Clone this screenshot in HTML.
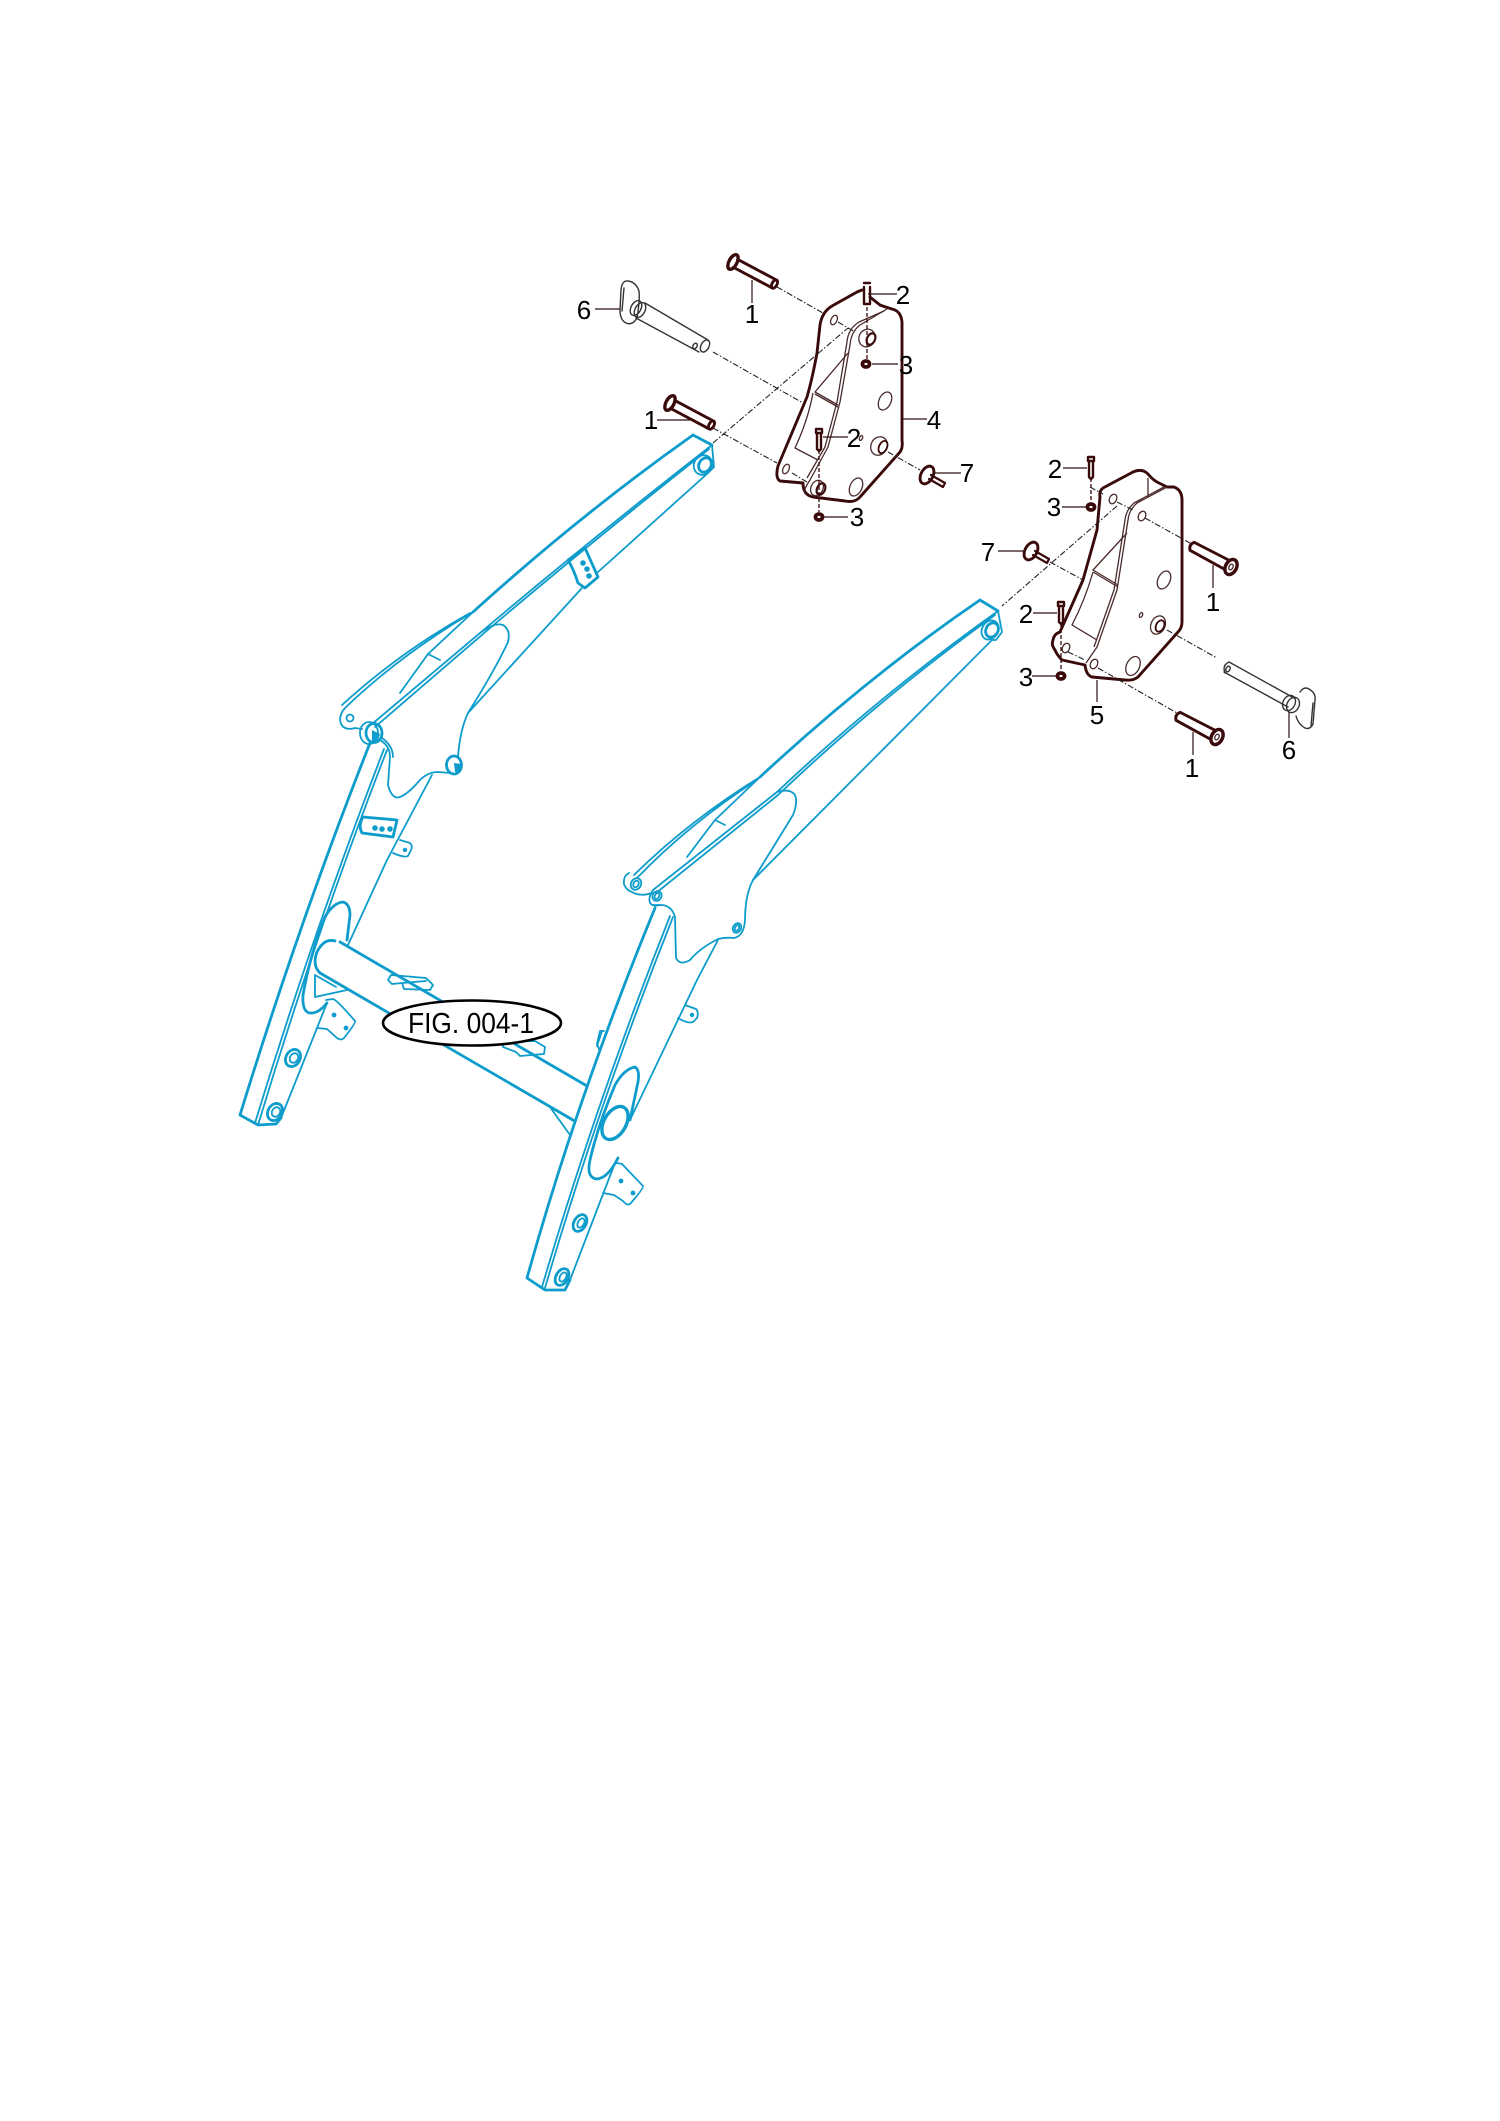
<!DOCTYPE html>
<html><head><meta charset="utf-8"><style>
html,body{margin:0;padding:0;background:#fff}
svg{display:block}
.b{fill:none;stroke:#0d9ccb;stroke-width:1.8;stroke-linejoin:round;stroke-linecap:round}
.bt{fill:none;stroke:#0d9ccb;stroke-width:2.8;stroke-linejoin:round;stroke-linecap:round}
.bf{fill:#0d9ccb;stroke:none}
.d{fill:none;stroke:#3a0a0a;stroke-width:2.9;stroke-linejoin:round;stroke-linecap:round}
.t{fill:none;stroke:#4a2a2a;stroke-width:1.3;stroke-linejoin:round}
.g{fill:none;stroke:#333;stroke-width:1.4;stroke-linecap:round}
.ld{fill:none;stroke:#301010;stroke-width:1.2}
.da{fill:none;stroke:#222;stroke-width:1.1;stroke-dasharray:6 2 1.5 2}
text{font-family:"Liberation Sans",sans-serif;fill:#000}
.n{font-size:26px;text-anchor:middle}
</style></head><body>
<svg width="1500" height="2121" viewBox="0 0 1500 2121" xmlns="http://www.w3.org/2000/svg">

<!-- LEFT ARM -->
<g>
<path class="bt" d="M693 435L712 445M693 435Q580 515 473 612"/>
<path class="b" d="M712 445Q590 540 480 633L372 724"/>
<path class="b" d="M709 449Q590 543 483 634L375 727"/>
<path class="b" d="M712 445L714 467L708 473L598 572M582 588L468 713"/>
<path class="b" d="M473 612Q400 655 345 708Q338 716 341 724Q345 731 355 728L362 729"/>
<path class="b" d="M470 613Q400 652 342 705"/>
<path class="b" d="M473 612L428 654L400 693M428 654L440 660"/>
<path class="b" d="M480 633Q495 622 503 625Q511 630 508 642Q495 670 468 713Q460 730 458 757"/>
<circle class="b" cx="350" cy="718" r="3.5"/>
<ellipse class="bt" cx="705" cy="465" rx="6" ry="7.5" transform="rotate(30 705 465)"/>
<ellipse class="b" cx="703" cy="465" rx="9" ry="10" transform="rotate(30 703 465)"/>
<path class="bt" d="M568 560L585 548L598 577L585 588L578 583Q574 570 568 560Z"/>
<circle class="bf" cx="583" cy="563" r="2.8"/><circle class="bf" cx="587" cy="569" r="2.8"/><circle class="bf" cx="589" cy="576" r="2.8"/>
<ellipse class="bt" cx="374" cy="733" rx="8" ry="9.5" fill="#fff"/>
<ellipse class="b" cx="369" cy="733" rx="9" ry="11"/>
<path class="bf" d="M372 730L380 734L377 743L372 741Z"/>
<ellipse class="bt" cx="454" cy="765" rx="7.5" ry="9"/>
<path class="bf" d="M454 763L461 764L461 772L455 772Z"/>
<path class="b" d="M380 740Q390 746 390 757L388 785Q392 800 400 797Q408 794 420 780Q428 772 438 772L450 773"/>
<path class="b" d="M382 738Q393 746 393 757"/>
<path class="bt" d="M370 743Q300 920 240 1115L258 1125L276 1124L281 1118"/>
<path class="b" d="M387 750Q317 930 258 1125"/>
<path class="b" d="M384 749Q314 930 255 1123"/>
<path class="b" d="M432 775L387 860L348 945M327 1003L281 1118"/>
<path class="bt" d="M363 817L397 820L393 837L362 833Q358 826 363 817Z"/>
<circle class="bf" cx="375" cy="828" r="2.8"/><circle class="bf" cx="382" cy="829" r="2.8"/><circle class="bf" cx="390" cy="829" r="2.8"/>
<path class="b" d="M400 840L410 843Q413 846 411 850L408 856Q404 858 393 853"/>
<circle class="bf" cx="405" cy="850" r="2.2"/>
<path class="bt" d="M343 902Q333 903 325 917Q310 955 303 995Q302 1012 310 1013Q318 1014 327 1003M343 902Q350 904 350 915L347 940"/>
<path class="b" d="M326 1000L333 999Q337 1000 355 1021Q356 1023 344 1038Q341 1041 337 1038L327 1029L317 1028"/>
<circle class="bf" cx="334" cy="1015" r="2.4"/><circle class="bf" cx="346" cy="1028" r="2.4"/>
<ellipse class="bt" cx="293" cy="1058" rx="7" ry="9" transform="rotate(30 293 1058)"/><ellipse class="b" cx="294" cy="1058" rx="4" ry="5" transform="rotate(30 294 1058)"/>
<ellipse class="bt" cx="275" cy="1112" rx="7" ry="9" transform="rotate(30 275 1112)"/><ellipse class="b" cx="276" cy="1112" rx="4" ry="5" transform="rotate(30 276 1112)"/>
<path class="bt" d="M340 942L587 1086M320 973L573 1120"/>
<path class="bt" d="M320 973Q312 965 317 952Q324 938 335 941"/>
<path class="b" d="M315 975L315 997L347 990M315 975L336 987M550 1107L575 1122M550 1107L570 1135"/>
<path class="b" d="M391 975L388 980L392 984L402 983L404 989L430 990L433 985L426 978L391 975ZM402 983L426 981"/>
<path class="b" d="M503 1042L535 1041L545 1047L544 1054L520 1056L516 1052L503 1047Z"/>
</g>

<!-- RIGHT ARM -->
<g>
<path class="bt" d="M980 600L998 611M980 600Q870 675 760 777"/>
<path class="b" d="M998 611Q880 695 777 792L653 890"/>
<path class="b" d="M995 615Q880 698 778 795L656 893"/>
<path class="b" d="M998 611L1002 632L996 640L992 640L753 880"/>
<path class="b" d="M760 777Q690 820 634 875M757 780Q690 823 637 878"/>
<path class="b" d="M760 777L715 820L687 857M715 820L725 825"/>
<path class="b" d="M777 792Q790 788 795 795Q798 803 793 815L753 880Q745 895 745 920Q744 936 734 938Q725 937 718 939Q700 948 690 960Q680 966 676 958L675 917Q672 906 662 905L652 905"/>
<path class="b" d="M629 873Q623 876 624 884Q626 890 632 892Q640 897 652 893"/>
<ellipse class="b" cx="636" cy="884" rx="5" ry="6" transform="rotate(30 636 884)"/><ellipse class="b" cx="636" cy="884" rx="2.5" ry="3.5" transform="rotate(30 636 884)"/>
<path class="b" d="M653 890Q648 897 650 903Q653 907 660 905"/>
<ellipse class="b" cx="657" cy="896" rx="4.5" ry="5" transform="rotate(30 657 896)"/><ellipse class="b" cx="657" cy="896" rx="2.2" ry="3" transform="rotate(30 657 896)"/>
<ellipse class="b" cx="737" cy="928" rx="4" ry="5" transform="rotate(30 737 928)"/><ellipse class="b" cx="737" cy="928" rx="2" ry="3" transform="rotate(30 737 928)"/>
<ellipse class="bt" cx="992" cy="630" rx="6" ry="7.5" transform="rotate(30 992 630)"/>
<ellipse class="b" cx="990" cy="630" rx="8" ry="10" transform="rotate(30 990 630)"/>
<path class="bt" d="M655 908Q578 1095 527 1278L545 1290L565 1290L570 1280"/>
<path class="b" d="M673 917Q600 1100 545 1288"/>
<path class="b" d="M670 916Q597 1100 542 1287"/>
<path class="b" d="M718 940L697 980L630 1120M615 1163L570 1280"/>
<path class="bt" d="M635 1067Q624 1069 615 1085Q598 1125 590 1160Q586 1178 597 1179Q608 1178 618 1158M635 1067Q640 1070 638 1082L630 1120"/>
<ellipse cx="615" cy="1123" rx="11" ry="18" transform="rotate(30 615 1123)" fill="#fff" stroke="#0d9ccb" stroke-width="3.4"/>
<path class="b" d="M617 1163L622 1164L643 1186Q644 1188 630 1204Q627 1206 623 1201L614 1195L603 1193"/>
<circle class="bf" cx="621" cy="1181" r="2.4"/><circle class="bf" cx="633" cy="1193" r="2.4"/>
<path class="b" d="M685 1005L696 1009Q699 1012 697 1018L693 1022Q688 1024 678 1018"/>
<circle class="bf" cx="692" cy="1015" r="2.2"/>
<path class="b" d="M604 1031L600 1031L597 1044L599 1049"/>
<path class="b" d="M602 1031L597 1046"/>
<ellipse class="bt" cx="580" cy="1223" rx="6" ry="9" transform="rotate(30 580 1223)"/><ellipse class="b" cx="581" cy="1223" rx="3" ry="5" transform="rotate(30 581 1223)"/>
<ellipse class="bt" cx="562" cy="1277" rx="6" ry="9" transform="rotate(30 562 1277)"/><ellipse class="b" cx="563" cy="1277" rx="3" ry="5" transform="rotate(30 563 1277)"/>
</g>

<!-- label ellipse -->
<ellipse cx="472" cy="1023" rx="89" ry="22.5" fill="#fff" stroke="#000" stroke-width="2.6"/>
<text x="408" y="1033" font-size="29" textLength="126" lengthAdjust="spacingAndGlyphs">FIG. 004-1</text>

<!-- PLATE 4 -->
<g>
<path class="d" d="M862 290L857 292L832 306Q822 312 820 325L817 353Q812 380 807 397L778 466Q775 478 780 481L803 483Q803 495 813 497L845 501Q855 503 860 497L900 452Q903 448 902 440L902 322Q901 311 892 309Q885 307 880 305L870 297"/>
<path class="t" d="M887 309L860 325Q851 332 850 345L840 402L828 447L810 480Q803 490 805 494"/>
<path class="t" d="M884 311L859 322Q848 329 847 342L837 402L825 447L807 478"/>
<path class="t" d="M848 353L815 392L838 405M815 394L838 407M813 393Q808 420 795 448L818 460"/>
<ellipse class="t" cx="834" cy="320" rx="3" ry="5" transform="rotate(25 834 320)"/>
<ellipse class="t" cx="786" cy="469" rx="3" ry="5" transform="rotate(25 786 469)"/>
<ellipse class="t" cx="885" cy="401" rx="6" ry="9.5" transform="rotate(25 885 401)"/>
<ellipse class="t" cx="856" cy="487" rx="6" ry="9.5" transform="rotate(25 856 487)"/>
<ellipse class="t" cx="867" cy="338" rx="8" ry="9" transform="rotate(25 867 338)"/>
<ellipse class="d" cx="871" cy="339" rx="4" ry="6" transform="rotate(25 871 339)" style="stroke-width:2.2"/>
<ellipse class="t" cx="817" cy="488" rx="6" ry="8" transform="rotate(25 817 488)"/>
<ellipse class="d" cx="821" cy="489" rx="4" ry="6" transform="rotate(25 821 489)" style="stroke-width:2.2"/>
<ellipse class="t" cx="879" cy="446" rx="8" ry="9.5" transform="rotate(25 879 446)"/>
<ellipse class="d" cx="883" cy="447" rx="4" ry="6.5" transform="rotate(25 883 447)" style="stroke-width:1.8"/>
</g>

<!-- PLATE 5 -->
<g>
<path class="d" d="M1103 488L1133 472Q1142 468 1148 474Q1152 479 1157 482L1167 487L1174 487Q1182 490 1182 500L1182 622Q1182 628 1178 632L1138 677Q1133 681 1125 680L1092 677Q1086 675 1085 665L1062 660Q1057 655 1055 650Q1051 645 1053 640Q1054 634 1060 632L1083 580L1097 530L1100 497Q1099 491 1103 488Z"/>
<path class="t" d="M1167 487L1137 503Q1129 510 1128 520L1117 590L1097 647L1086 663"/>
<path class="t" d="M1164 487L1134 503Q1126 510 1125 520L1114 590L1094 647"/>
<path class="t" d="M1148 478L1148 497M1127 533L1093 570L1118 585M1093 572L1118 587M1093 572Q1085 600 1072 625L1097 640"/>
<ellipse class="t" cx="1113" cy="499" rx="3.5" ry="5" transform="rotate(25 1113 499)"/>
<ellipse class="t" cx="1142" cy="516" rx="3.5" ry="5" transform="rotate(25 1142 516)"/>
<ellipse class="t" cx="1164" cy="580" rx="6" ry="9.5" transform="rotate(25 1164 580)"/>
<ellipse class="t" cx="1066" cy="648" rx="3.5" ry="5" transform="rotate(25 1066 648)"/>
<ellipse class="t" cx="1094" cy="664" rx="3.5" ry="5" transform="rotate(25 1094 664)"/>
<ellipse class="t" cx="1133" cy="666" rx="6.5" ry="10" transform="rotate(25 1133 666)"/>
<ellipse class="t" cx="1158" cy="625" rx="7" ry="9.5" transform="rotate(25 1158 625)"/>
<ellipse class="d" cx="1160" cy="626" rx="4" ry="6" transform="rotate(25 1160 626)" style="stroke-width:1.8"/>
<ellipse class="t" cx="1141" cy="615" rx="1.5" ry="2.5" transform="rotate(25 1141 615)"/>
</g>

<!-- dashed centre lines -->
<path class="da" d="M777 287L823 313M838 322L855 332M713 352L803 403M713 428L777 463M792 473L807 482M713 443L848 328M888 452L920 470"/>
<path class="da" d="M1090 487L1103 494M1117 502L1133 510M1145 518L1190 543M1117 506L1002 606M1050 562L1083 580M1167 630L1217 658M1068 652L1085 660M1098 668L1177 713"/>
<path d="M867 307V360M819 450V512M1091 478V502M1061 623V670" fill="none" stroke="#3a0a0a" stroke-width="1.3" stroke-dasharray="4 2"/>

<!-- pins 1, left side -->
<g transform="translate(733 262) rotate(28)">
<ellipse class="d" cx="0" cy="0" rx="4" ry="8" style="stroke-width:3.4"/>
<path class="d" d="M3 -4.5L46 -4.5M3 4.5L46 4.5"/>
<ellipse class="d" cx="47" cy="0" rx="2.5" ry="4.5"/>
</g>
<g transform="translate(670 403) rotate(28)">
<ellipse class="d" cx="0" cy="0" rx="4" ry="8" style="stroke-width:3.4"/>
<path class="d" d="M3 -4.5L46 -4.5M3 4.5L46 4.5"/>
<ellipse class="d" cx="47" cy="0" rx="2.5" ry="4.5"/>
</g>
<!-- pins 1, right side -->
<g transform="translate(1231 567) rotate(208)">
<ellipse class="d" cx="0" cy="0" rx="5.5" ry="8" style="stroke-width:3.4"/><ellipse class="t" cx="0" cy="0" rx="2" ry="3"/>
<path class="d" d="M6 -5L44 -4.5M6 5L44 4.5M44 -4.5Q48 0 44 4.5"/>
</g>
<g transform="translate(1217 737) rotate(208)">
<ellipse class="d" cx="0" cy="0" rx="5.5" ry="8" style="stroke-width:3.4"/><ellipse class="t" cx="0" cy="0" rx="2" ry="3"/>
<path class="d" d="M6 -5L44 -4.5M6 5L44 4.5M44 -4.5Q48 0 44 4.5"/>
</g>

<!-- bolts 2 -->
<g>
<path class="d" style="stroke-width:2.4" d="M864 283H870M864 287V304H870V287"/>
<path class="d" style="stroke-width:2.4" d="M816 429H822V433H816ZM817 433L817 449L819 451L821 449L821 433"/>
<path class="d" style="stroke-width:2.4" d="M1088 457H1094V461H1088ZM1089 461L1089 477L1091 479L1093 477L1093 461"/>
<path class="d" style="stroke-width:2.4" d="M1058 602H1064V606H1058ZM1059 606L1059 622L1061 624L1063 622L1063 606"/>
</g>
<!-- nuts 3 -->
<g>
<ellipse class="d" cx="866" cy="364" rx="3.5" ry="3" style="stroke-width:3.8"/>
<ellipse class="d" cx="819" cy="517" rx="3.5" ry="3" style="stroke-width:3.8"/>
<ellipse class="d" cx="1091" cy="507" rx="3.5" ry="3" style="stroke-width:3.8"/>
<ellipse class="d" cx="1061" cy="676" rx="3.5" ry="3" style="stroke-width:3.8"/>
</g>
<!-- 7 pins -->
<g>
<ellipse class="d" cx="927" cy="475" rx="6" ry="9.5" transform="rotate(28 927 475)"/>
<path class="d" style="stroke-width:2.2" d="M931 475L945 483L943 487L929 479"/>
<ellipse class="d" cx="1031" cy="551" rx="6" ry="9.5" transform="rotate(28 1031 551)"/>
<path class="d" style="stroke-width:2.2" d="M1035 551L1049 559L1047 563L1033 555"/>
</g>
<!-- pins 6 -->
<g>
<path class="g" d="M621 290Q622 280 628 281Q636 282 639 291Q640 300 637 318Q632 326 626 323Q620 320 620 310Z"/>
<path class="g" d="M624 288L622 311"/>
<ellipse class="g" cx="636" cy="308" rx="5" ry="8" transform="rotate(28 636 308)"/>
<ellipse class="g" cx="640" cy="310" rx="5" ry="8" transform="rotate(28 640 310)"/>
<path class="g" d="M645 303L708 340M636 318L699 352"/>
<ellipse class="g" cx="705" cy="346" rx="4" ry="6.5" transform="rotate(28 705 346)"/>
<ellipse class="g" cx="695" cy="346" rx="2" ry="3" transform="rotate(28 695 346)"/>
</g>
<g>
<path class="g" d="M1229 662L1294 698M1224 672L1288 707M1229 662Q1222 665 1225 673"/>
<ellipse class="g" cx="1228" cy="669" rx="2" ry="3" transform="rotate(28 1228 669)"/>
<ellipse class="g" cx="1293" cy="705" rx="6" ry="8" transform="rotate(28 1293 705)"/>
<ellipse class="g" cx="1289" cy="703" rx="6" ry="8" transform="rotate(28 1289 703)"/>
<path class="g" d="M1300 692Q1304 686 1309 689Q1316 693 1315 700L1313 724Q1310 730 1305 728Q1298 724 1296 716"/>
<path class="g" d="M1313 703L1311 726"/>
</g>

<!-- leaders -->
<path class="ld" d="M752 280V303M657 420H690M868 294H897M872 364H898M903 419H927M933 473H961M823 437H848M823 517H848"/>
<path class="ld" d="M595 309H620"/>
<path class="ld" d="M1063 468H1087M1062 507H1086M998 551H1023M1033 613H1057M1032 676H1056M1097 680V702M1213 565V588M1193 732V755M1289 712V738"/>

<!-- numbers -->
<g>
<text class="n" x="752" y="323">1</text>
<text class="n" x="903" y="304">2</text>
<text class="n" x="906" y="374">3</text>
<text class="n" x="934" y="429">4</text>
<text class="n" x="967" y="482">7</text>
<text class="n" x="854" y="447">2</text>
<text class="n" x="857" y="526">3</text>
<text class="n" x="651" y="429">1</text>
<text class="n" x="584" y="319">6</text>
<text class="n" x="1055" y="478">2</text>
<text class="n" x="1054" y="516">3</text>
<text class="n" x="988" y="561">7</text>
<text class="n" x="1026" y="623">2</text>
<text class="n" x="1026" y="686">3</text>
<text class="n" x="1097" y="724">5</text>
<text class="n" x="1213" y="611">1</text>
<text class="n" x="1192" y="777">1</text>
<text class="n" x="1289" y="759">6</text>
</g>
<ellipse class="t" cx="861" cy="438" rx="1.5" ry="2.5" transform="rotate(25 861 438)"/>
</svg>
</body></html>
